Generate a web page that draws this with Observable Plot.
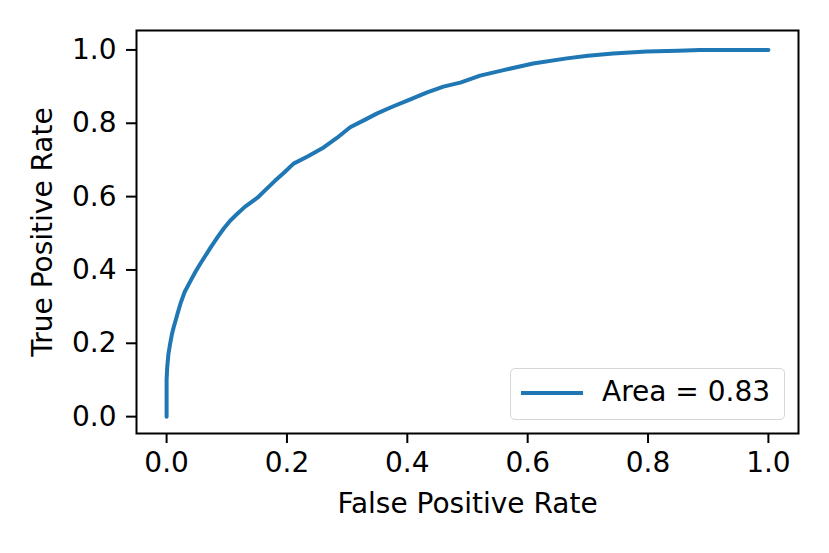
<!DOCTYPE html>
<html>
<head>
<meta charset="utf-8">
<script src="https://cdn.jsdelivr.net/npm/d3@7"></script>
<script src="https://cdn.jsdelivr.net/npm/@observablehq/plot@0.6"></script>
<style>
  html, body { margin: 0; padding: 0; background: #fff; }
  #wrap { position: relative; width: 829px; height: 553px; font-family: "DejaVu Sans", sans-serif; }
  #legend { position: absolute; left: 510px; top: 368px; width: 273px; height: 50px;
    border: 1.5px solid #d6d6d6; border-radius: 5px; background: rgba(255,255,255,0.8); }
  #legend .sw { position: absolute; left: 10px; top: 22px; width: 62px; height: 4px; background: #1f77b4; }
  #legend .lb { position: absolute; left: 91px; top: 7px; font-size: 28px; line-height: 32px; color: #000; white-space: nowrap; }
</style>
</head>
<body>
<div id="wrap"></div>
<script>
const fpr = [0,0,0.001,0.003,0.006,0.009,0.012,0.015,0.018,0.023,0.03,0.04,0.048,0.056,0.065,0.073,0.085,0.095,0.106,0.118,0.13,0.151,0.161,0.18,0.195,0.211,0.235,0.261,0.283,0.305,0.33,0.35,0.375,0.4,0.433,0.46,0.488,0.521,0.56,0.609,0.665,0.7,0.742,0.798,0.85,0.886,0.95,1.0];
const tpr = [0,0.10,0.134,0.17,0.2,0.226,0.245,0.262,0.28,0.308,0.34,0.371,0.395,0.417,0.44,0.461,0.49,0.513,0.535,0.554,0.572,0.597,0.613,0.643,0.665,0.690,0.71,0.734,0.76,0.789,0.81,0.827,0.845,0.862,0.884,0.90,0.911,0.930,0.945,0.963,0.977,0.984,0.990,0.996,0.998,1.0,1.0,1.0];
const ticks = [0, 0.2, 0.4, 0.6, 0.8, 1.0];
const xLabel = "False Positive Rate";
const yLabel = "True Positive Rate";
const legendLabel = "Area = 0.83";

const data = fpr.map((x, i) => ({x, y: tpr[i]}));

const chart = Plot.plot({
  width: 829,
  height: 553,
  marginLeft: 136,
  marginRight: 31,
  marginTop: 30,
  marginBottom: 120,
  style: {fontFamily: "DejaVu Sans, sans-serif", fontSize: "28px", color: "#000", background: "#fff"},
  x: {domain: [-0.05, 1.05]},
  y: {domain: [-0.046, 1.053]},
  marks: [
    Plot.line(data, {x: "x", y: "y", stroke: "#1f77b4", strokeWidth: 4}),
    Plot.frame({stroke: "#000", strokeWidth: 2}),
    Plot.axisX({ticks, tickFormat: d3.format(".1f"), tickSize: 10, tickPadding: 9, strokeWidth: 2, label: null, fontSize: 28}),
    Plot.axisY({ticks, tickFormat: d3.format(".1f"), tickSize: 10, tickPadding: 10, strokeWidth: 2, label: null, fontSize: 28}),
    Plot.text([xLabel], {frameAnchor: "bottom", dy: 79, fontSize: 28, fill: "#000"}),
    Plot.text([yLabel], {frameAnchor: "left", textAnchor: "middle", dx: -93, rotate: -90, fontSize: 28, fill: "#000"})
  ]
});

const wrap = document.getElementById("wrap");
wrap.appendChild(chart);
const lg = document.createElement("div");
lg.id = "legend";
lg.innerHTML = '<div class="sw"></div><div class="lb"></div>';
lg.querySelector(".lb").textContent = legendLabel;
wrap.appendChild(lg);
</script>
</body>
</html>
